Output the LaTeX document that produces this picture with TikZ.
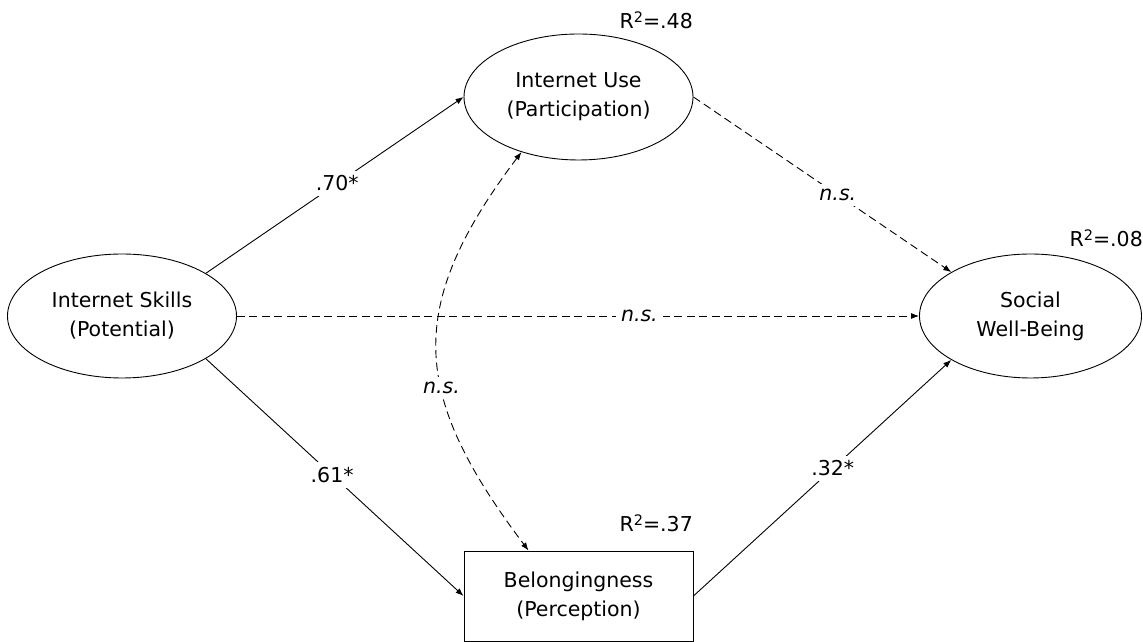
\documentclass[tikz,border=0pt]{standalone}
\usepackage{fontspec}
\setmainfont{DejaVu Sans}
\usetikzlibrary{shapes.geometric,arrows.meta}
\newcommand{\sqr}{\raisebox{0.5ex}{\fontsize{14.5}{14.5}\selectfont 2}}
\begin{document}
\begin{tikzpicture}[x=1pt,y=1pt,
  basefont/.style={font=\fontsize{20.5}{29}\selectfont},
  every node/.style={basefont, align=center},
  latent/.style={draw, ellipse, minimum width=229pt, minimum height=124pt,
                 inner sep=0pt, line width=0.9pt},
  observed/.style={draw, rectangle, minimum width=229pt, minimum height=90pt,
                   inner sep=0pt, line width=0.9pt},
  tip/.style={-{Latex[length=8pt,width=6pt]}},
  effect/.style={draw, line width=0.9pt, tip},
  nseffect/.style={effect, dash pattern=on 8pt off 4.5pt},
  covar/.style={draw, line width=0.9pt, dash pattern=on 8pt off 4.5pt,
                {Latex[length=8pt,width=6pt]}-{Latex[length=8pt,width=6pt]}},
  coef/.style={fill=white, inner sep=5pt},
  nslabel/.style={coef, font=\fontsize{20.5}{29}\selectfont\itshape},
  rsq/.style={anchor=east, inner sep=0pt}
]
\useasboundingbox (0,0) rectangle (1143,642);

% constructs
\node[latent] (skills) at (122,326) {Internet Skills\\(Potential)};
\node[latent, minimum height=126pt] (use) at (578.5,545) {Internet Use\\(Participation)};
\node[latent, minimum width=222pt] (swb) at (1030.5,326) {Social\\Well-Being};
\node[observed] (belong) at (578.5,46) {Belongingness\\(Perception)};

% explained variance
\node[rsq] (r2use) at (693,622) {R\sqr=.48};
\node[rsq] (r2swb) at (1143,404) {R\sqr=.08};
\node[rsq] (r2belong) at (693,119) {R\sqr=.37};

% structural paths
\draw[effect] (skills.27) -- node[coef, pos=0.51] {.70*} (use.west);
\draw[effect] (skills.333) -- node[coef, pos=0.49] {.61*} (belong.west);
\draw[effect] (belong.east) -- node[coef, pos=0.54] {.32*} (swb.209);
\draw[nseffect] (use.east) -- node[nslabel, pos=0.56] {n.s.} (swb.151);
\draw[nseffect] (skills.east) -- node[nslabel, pos=0.59] {n.s.} (swb.west);

% residual covariance
\draw[covar] (use.224) to[out=233, in=127, looseness=1.25]
  node[nslabel, pos=0.6] {n.s.} ([xshift=-50pt]belong.north);
\end{tikzpicture}
\end{document}
